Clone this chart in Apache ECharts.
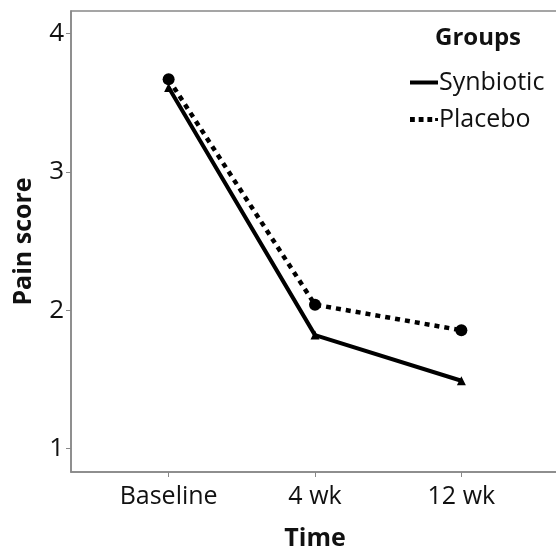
<!DOCTYPE html>
<html><head><meta charset="utf-8">
<script src="https://cdn.jsdelivr.net/npm/echarts@6/dist/echarts.min.js"></script>
<style>html,body{margin:0;padding:0;background:#fff}#c{width:556px;height:549px}</style>
</head><body><div id="c"></div>
<script>
const categories = ['Baseline', '4 wk', '12 wk'];
const synbiotic = [3.61, 1.82, 1.49];
const placebo = [3.67, 2.04, 1.855];
const yTicks = [1, 2, 3, 4];
const xTicks = [0, 1, 2];

const FONT = 'Open Sans';
const chart = echarts.init(document.getElementById('c'));
chart.setOption({
  animation: false,
  title: {
    text: 'Groups', left: 430, top: 21,
    textStyle: { fontFamily: FONT, fontWeight: 'bold', fontSize: 24, color: '#111' }
  },
  legend: {
    orient: 'vertical', left: 405, top: 65, itemGap: 12,
    itemWidth: 28, itemHeight: 5,
    textStyle: { fontFamily: FONT, fontSize: 25, color: '#111', padding: [0, 0, 0, -4] },
    data: [
      { name: 'Synbiotic', icon: 'path://M0,0h28v4H0z' },
      { name: 'Placebo', icon: 'path://M0,0h5v5H0zM9,0h5v5H9zM18,0h5v5H18zM26,1h3v3h-3z' }
    ]
  },
  grid: {
    left: 71, top: 11, width: 488, bottom: 77, containLabel: false, outerBoundsMode: 'none',
    show: true, borderColor: '#888', borderWidth: 1.5
  },
  xAxis: {
    type: 'value', min: -0.667, max: 2.667,
    name: 'Time', nameLocation: 'middle', nameGap: 54,
    nameTextStyle: { fontFamily: FONT, fontWeight: 'bold', fontSize: 25, color: '#111' },
    splitLine: { show: false },
    axisLine: { onZero: false, lineStyle: { color: '#888', width: 1.5 } },
    axisTick: { customValues: xTicks, length: 5, lineStyle: { color: '#888' } },
    axisLabel: {
      customValues: xTicks, margin: 12,
      fontFamily: FONT, fontSize: 25, color: '#111',
      formatter: v => categories[Math.round(v)]
    }
  },
  yAxis: {
    type: 'value', min: 0.83, max: 4.164,
    name: 'Pain score', nameLocation: 'middle', nameGap: 35,
    nameTextStyle: { fontFamily: FONT, fontWeight: 'bold', fontSize: 25, color: '#111' },
    splitLine: { show: false },
    axisLine: { show: true, onZero: false, lineStyle: { color: '#888', width: 1.5 } },
    axisTick: { show: true, customValues: yTicks, length: 5, lineStyle: { color: '#888' } },
    axisLabel: { customValues: yTicks, margin: 7, fontFamily: FONT, fontSize: 26, color: '#111' }
  },
  series: [
    {
      name: 'Synbiotic', type: 'line',
      data: synbiotic.map((v, i) => [xTicks[i], v]),
      symbol: 'triangle', symbolSize: 9,
      itemStyle: { color: '#000' },
      lineStyle: { color: '#000', width: 4 }
    },
    {
      name: 'Placebo', type: 'line',
      data: placebo.map((v, i) => [xTicks[i], v]),
      symbol: 'circle', symbolSize: 12,
      itemStyle: { color: '#000' },
      lineStyle: { color: '#000', width: 4.5, type: [5, 5], cap: 'butt' }
    }
  ]
});
</script></body></html>
